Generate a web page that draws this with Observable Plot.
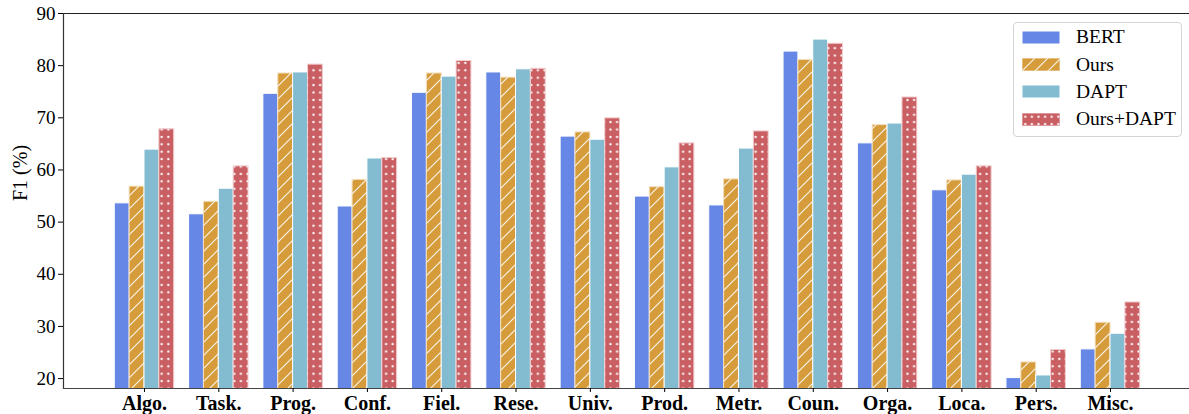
<!DOCTYPE html>
<html>
<head>
<meta charset="utf-8">
<script src="https://cdn.jsdelivr.net/npm/d3@7"></script>
<script src="https://cdn.jsdelivr.net/npm/@observablehq/plot@0.6"></script>
<style>
  html, body { margin: 0; padding: 0; background: #fff; }
  #wrap { position: relative; width: 1189px; height: 414px; font-family: 'Liberation Serif', 'Times New Roman', serif; }
  #legend { position: absolute; left: 1013px; top: 22px; width: 167px; height: 113px; border: 1px solid #d4d4d4; border-radius: 4px; background: rgba(255,255,255,0.85); }
  .row { position: absolute; left: 0; height: 20px; display: flex; align-items: center; }
  .row svg { margin-left: 8px; }
  .row span { position: absolute; left: 62px; font-size: 19.5px; color: #000; white-space: nowrap; line-height: 20px; }
</style>
</head>
<body>
<div id="wrap"><div id="chart"></div><div id="legend"></div></div>
<script>
const categories = ["Algo.", "Task.", "Prog.", "Conf.", "Fiel.", "Rese.", "Univ.", "Prod.", "Metr.", "Coun.", "Orga.", "Loca.", "Pers.", "Misc."];
const seriesNames = ["BERT", "Ours", "DAPT", "Ours+DAPT"];
const bert     = [53.6, 51.5, 74.6, 53.0, 74.8, 78.7, 66.4, 54.9, 53.2, 82.7, 65.1, 56.1, 20.1, 25.6];
const ours     = [56.8, 53.9, 78.5, 58.1, 78.5, 77.7, 67.2, 56.7, 58.2, 81.1, 68.6, 58.0, 23.1, 30.7];
const dapt     = [63.9, 56.4, 78.7, 62.2, 77.9, 79.3, 65.8, 60.5, 64.1, 85.0, 68.9, 59.1, 20.6, 28.6];
const oursDapt = [67.8, 60.7, 80.2, 62.3, 80.9, 79.4, 69.9, 65.1, 67.4, 84.2, 73.9, 60.7, 25.5, 34.6];
const yTicks = [20, 30, 40, 50, 60, 70, 80, 90];
const yLabel = "F1 (%)";

const colors = ["#6787e6", "#d69c3c", "#83bcd0", "#c95f63"];
const strokes = ["#ffffff", "#f3dfbd", "#ffffff", "#f2cfd0"];
const patternIds = ["patBert", "patOurs", "patDapt", "patOursDapt"];
const allValues = [bert, ours, dapt, oursDapt];

const table = allValues.flatMap((vals, si) =>
  vals.map((v, i) => ({ category: categories[i], i, series: seriesNames[si], si, value: v })));

function defsMark() {
  const defs = d3.create("svg:defs");
  [0, 2].forEach(si => {
    const p = defs.append("pattern").attr("id", patternIds[si]).attr("patternUnits", "userSpaceOnUse")
      .attr("width", 10).attr("height", 10);
    p.append("rect").attr("width", 10).attr("height", 10).attr("fill", colors[si]);
  });
  {
    const s = 13;
    const p = defs.append("pattern").attr("id", patternIds[1]).attr("patternUnits", "userSpaceOnUse")
      .attr("width", s).attr("height", s);
    p.append("rect").attr("width", s).attr("height", s).attr("fill", colors[1]);
    p.append("path").attr("d", `M-1,1 L1,-1 M0,${s} L${s},0 M${s - 1},${s + 1} L${s + 1},${s - 1}`)
      .attr("stroke", "#fff").attr("stroke-width", 1.1).attr("stroke-opacity", 0.9);
  }
  {
    const w = 6.6, h = 7.4;
    const p = defs.append("pattern").attr("id", patternIds[3]).attr("patternUnits", "userSpaceOnUse")
      .attr("width", w).attr("height", h);
    p.append("rect").attr("width", w).attr("height", h).attr("fill", colors[3]);
    p.append("circle").attr("cx", w / 2).attr("cy", h / 2).attr("r", 1.15).attr("fill", "#fff");
  }
  return defs.node();
}

const barMarks = seriesNames.map((name, si) =>
  Plot.rectY(table.filter(d => d.si === si), {
    x1: d => d.i - 0.4 + d.si * 0.2,
    x2: d => d.i - 0.2 + d.si * 0.2,
    y: "value",
    fill: `url(#${patternIds[si]})`,
    stroke: strokes[si],
    strokeWidth: 1,
    clip: true
  }));

const chart = Plot.plot({
  width: 1189,
  height: 414,
  marginLeft: 63,
  marginRight: 0,
  marginTop: 13,
  marginBottom: 26,
  style: { fontFamily: "'Liberation Serif', 'Times New Roman', serif", fontSize: "18px", color: "#000", background: "#fff" },
  x: { domain: [-1.09, 14.063], axis: null },
  y: { domain: [18.1, 90], axis: null },
  marks: [
    defsMark,
    ...barMarks,
    Plot.frame({ anchor: "top", stroke: "#222", strokeWidth: 1.2 }),
    Plot.frame({ anchor: "left", stroke: "#333", strokeWidth: 1.2 }),
    Plot.frame({ anchor: "bottom", stroke: "#444", strokeWidth: 1.2 }),
    Plot.axisY({ ticks: yTicks, tickSize: 5, tickPadding: 3, fontSize: 19, label: null }),
    Plot.text([yLabel], { text: d => d, frameAnchor: "left", rotate: -90, dx: -43, fontSize: 20 }),
    Plot.axisX({ ticks: d3.range(categories.length), tickFormat: i => categories[i], tickSize: 4, tickPadding: 3, fontSize: 20, fontWeight: "bold", label: null })
  ]
});
document.getElementById("chart").appendChild(chart);

const legend = d3.select("#legend");
const rowTops = [4, 31.5, 58.5, 86];
seriesNames.forEach((name, si) => {
  const row = legend.append("div").attr("class", "row").style("top", rowTops[si] + "px");
  const sw = row.append("svg").attr("width", 38).attr("height", 13);
  sw.append("rect").attr("width", 38).attr("height", 13).attr("fill", `url(#${patternIds[si]})`)
    .attr("stroke", strokes[si]).attr("stroke-width", 1);
  row.append("span").text(name);
});
</script>
</body>
</html>
